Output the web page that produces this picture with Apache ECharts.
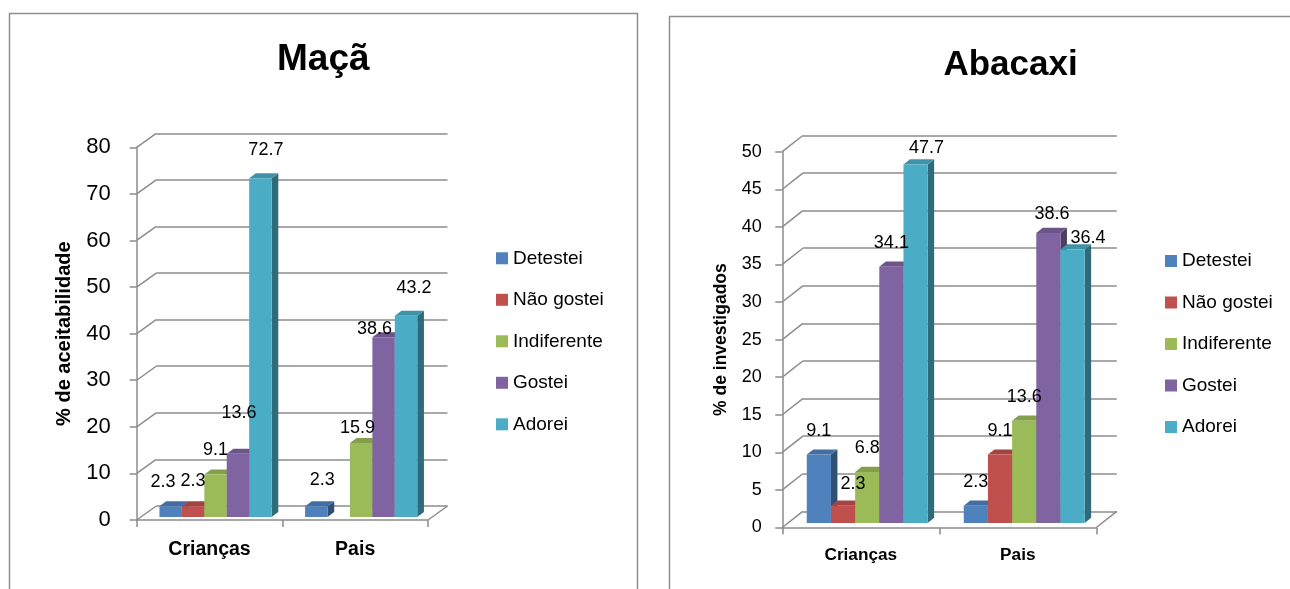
<!DOCTYPE html>
<html>
<head>
<meta charset="utf-8">
<script src="https://cdn.jsdelivr.net/npm/echarts@6/dist/echarts.min.js"></script>
<style>
html, body { margin: 0; padding: 0; background: #fff; }
#chart { width: 1290px; height: 589px; }
</style>
</head>
<body>
<div id="chart"></div>
<script>
// ---------------- DATA ----------------
const categories = ['Crianças', 'Pais'];
const responses = ['Detestei', 'Não gostei', 'Indiferente', 'Gostei', 'Adorei'];
const chartTitles = ['Maçã', 'Abacaxi'];
const yAxisTitles = ['% de aceitabilidade', '% de investigados'];
// values per response (order of `responses`)
const macaCriancas = [2.3, 2.3, 9.1, 13.6, 72.7];
const macaPais = [2.3, null, 15.9, 38.6, 43.2];
const abacaxiCriancas = [9.1, 2.3, 6.8, 34.1, 47.7];
const abacaxiPais = [2.3, 9.1, 13.6, 38.6, 36.4];
// y-axis ticks
const macaTicks = [0, 10, 20, 30, 40, 50, 60, 70, 80];
const abacaxiTicks = [0, 5, 10, 15, 20, 25, 30, 35, 40, 45, 50];

// ---------------- STYLE / LAYOUT ----------------
const FONT = '"Liberation Sans", Arial, sans-serif';
const GRAY = '#8c8c8c';
const colors = ['#4F81BD', '#C0504D', '#9BBB59', '#8064A2', '#4BACC6'];

const charts = [
  {
    values: [macaCriancas, macaPais], ticks: macaTicks,
    front: { left: 136.7, top: 147.3, width: 291.3, height: 372.7 },
    back: [19.5, -14], barShift: [6, -3], barDepth: [6.7, 5],
    tickFont: 22, tickMargin: 26, catFont: 19.5, nameFont: 20, nameGap: 62,
    labelFont: 18, title: { x: 323.3, top: 41, size: 37 },
    legend: { left: 496, top: 248.3 }, frame: { x: 9.5, y: 13.5 }
  },
  {
    values: [abacaxiCriancas, abacaxiPais], ticks: abacaxiTicks,
    front: { left: 782.3, top: 151.7, width: 314, height: 375.8 },
    back: [20.5, -16.2], barShift: [6.4, -4.5], barDepth: [6.5, 5.2],
    tickFont: 18, tickMargin: 20.6, catFont: 17.2, nameFont: 17.5, nameGap: 52,
    labelFont: 18, title: { x: 1010.5, top: 48, size: 35 },
    legend: { left: 1165, top: 251 }, frame: { x: 669.5, y: 16.5 }
  }
];

// label placement nudges: key chart-series-category -> [dx, dy] from bar top
const labelNudge = {
  '0-0-0': [-7.6, -27], '0-3-0': [1, -44], '0-4-0': [5.5, -31],
  '0-0-1': [6, -29.6], '0-2-1': [-3.6, -17.6], '0-3-1': [-9, -11], '0-4-1': [8, -31],
  '1-1-0': [10, -26.5], '1-4-0': [11, -21], '1-3-1': [3.6, -23], '1-4-1': [15.5, -15.6]
};

function shade(hex, f) {
  const n = parseInt(hex.slice(1), 16);
  const r = Math.round(((n >> 16) & 255) * f);
  const g = Math.round(((n >> 8) & 255) * f);
  const b = Math.round((n & 255) * f);
  return 'rgb(' + r + ',' + g + ',' + b + ')';
}

function makeBar(c, i) {
  const L = charts[c];
  return function (params, api) {
    const k = api.value(0);
    const v = api.value(1);
    if (v == null || isNaN(v)) return null;
    const base = api.coord([k, 0]);
    const top = api.coord([k, v]);
    const band = api.size([1, 0])[0];
    const bw = band * 0.154;
    const x0 = base[0] + L.barShift[0] + (i - 2.5) * bw;
    const yB = base[1] + L.barShift[1];
    const yT = top[1] + L.barShift[1];
    const dx = L.barDepth[0], dy = L.barDepth[1];
    const col = colors[i];
    const nudge = labelNudge[c + '-' + i + '-' + k] || [0, -28];
    return {
      type: 'group',
      children: [
        { type: 'polygon', shape: { points: [[x0 + bw, yT], [x0 + bw + dx, yT - dy], [x0 + bw + dx, yB - dy], [x0 + bw, yB]] },
          style: { fill: shade(col, 0.62) } },
        { type: 'polygon', shape: { points: [[x0, yT], [x0 + dx, yT - dy], [x0 + bw + dx, yT - dy], [x0 + bw, yT]] },
          style: { fill: shade(col, 0.85) } },
        { type: 'rect', shape: { x: x0, y: yT, width: bw, height: yB - yT }, style: { fill: col } },
        { type: 'text', z2: 100, x: x0 + bw / 2 + nudge[0], y: top[1] + nudge[1],
          style: { text: Number(v).toFixed(1), fill: '#000', fontSize: L.labelFont, fontFamily: FONT,
                   align: 'center', verticalAlign: 'middle' } }
      ]
    };
  };
}

function makeFrame(c) {
  const L = charts[c];
  return function (params, api) {
    const v = api.value(1);
    const y = api.coord([0, v])[1];
    const cs = params.coordSys;
    const st = { stroke: GRAY, lineWidth: 1.5 };
    const children = [
      { type: 'line', shape: { x1: cs.x, y1: y, x2: cs.x + L.back[0], y2: y + L.back[1] }, style: st }
    ];
    if (v === 0) {
      children.push({ type: 'line', shape: { x1: cs.x + cs.width, y1: y, x2: cs.x + cs.width + L.back[0], y2: y + L.back[1] }, style: st });
    }
    return { type: 'group', children: children };
  };
}

const grid = [], xAxis = [], yAxis = [], series = [], title = [], legend = [], graphic = [];

charts.forEach(function (L, c) {
  const F = L.front;
  const tmin = L.ticks[0], tmax = L.ticks[L.ticks.length - 1], step = L.ticks[1] - L.ticks[0];
  grid.push({ left: F.left, top: F.top, width: F.width, height: F.height, containLabel: false, outerBoundsMode: 'none' });
  grid.push({ left: F.left + L.back[0], top: F.top + L.back[1], width: F.width, height: F.height, containLabel: false, outerBoundsMode: 'none' });

  xAxis.push({
    type: 'category', gridIndex: 2 * c, data: categories, boundaryGap: true,
    axisLine: { show: true, lineStyle: { color: GRAY, width: 1.5 } },
    axisTick: { show: true, length: 7, lineStyle: { color: GRAY, width: 1.5 } },
    axisLabel: { margin: 19.5, color: '#000', fontSize: L.catFont, fontWeight: 'bold', fontFamily: FONT },
    splitLine: { show: false }
  });
  xAxis.push({ type: 'category', gridIndex: 2 * c + 1, data: categories, show: false });

  yAxis.push({
    type: 'value', gridIndex: 2 * c, min: tmin, max: tmax, interval: step,
    name: yAxisTitles[c], nameLocation: 'middle', nameGap: L.nameGap, nameRotate: 90,
    nameTextStyle: { color: '#000', fontSize: L.nameFont, fontWeight: 'bold', fontFamily: FONT },
    axisLine: { show: true, lineStyle: { color: GRAY, width: 1.5 } },
    axisTick: { show: true, length: 7, lineStyle: { color: GRAY, width: 1.5 } },
    axisLabel: { margin: L.tickMargin, color: '#000', fontSize: L.tickFont, fontFamily: FONT },
    splitLine: { show: false }
  });
  yAxis.push({
    type: 'value', gridIndex: 2 * c + 1, min: tmin, max: tmax, interval: step,
    axisLine: { show: false }, axisTick: { show: false }, axisLabel: { show: false },
    splitLine: { show: true, lineStyle: { color: GRAY, width: 1.5 } }
  });

  series.push({
    type: 'custom', silent: true, xAxisIndex: 2 * c, yAxisIndex: 2 * c, z: 1,
    data: L.ticks.map(function (t) { return [0, t]; }),
    encode: { x: 0, y: 1 }, renderItem: makeFrame(c)
  });

  responses.forEach(function (name, i) {
    series.push({
      type: 'custom', name: name, xAxisIndex: 2 * c, yAxisIndex: 2 * c,
      itemStyle: { color: colors[i] },
      data: categories.map(function (_, k) { return [k, L.values[k][i]]; }),
      encode: { x: 0, y: 1 },
      renderItem: makeBar(c, i)
    });
  });

  title.push({
    text: chartTitles[c], left: L.title.x, top: L.title.top, textAlign: 'center', padding: 0,
    textStyle: { color: '#000', fontSize: L.title.size, fontWeight: 'bold', fontFamily: FONT }
  });

  legend.push({
    data: responses, orient: 'vertical', left: L.legend.left, top: L.legend.top, padding: 0,
    icon: 'rect', itemWidth: 12, itemHeight: 12, itemGap: 21.5,
    textStyle: { color: '#000', fontSize: 19, fontFamily: FONT, lineHeight: 20 }
  });

  graphic.push({
    type: 'rect', silent: true, z: -1,
    shape: { x: L.frame.x, y: L.frame.y, width: c === 0 ? 628 : 700, height: 700 },
    style: { fill: 'none', stroke: '#8f8f8f', lineWidth: 1.5 }
  });
});

const chart = echarts.init(document.getElementById('chart'), null, { renderer: 'canvas' });
chart.setOption({
  animation: false,
  backgroundColor: '#fff',
  title: title, legend: legend, grid: grid, xAxis: xAxis, yAxis: yAxis,
  series: series, graphic: graphic
});
</script>
</body>
</html>
